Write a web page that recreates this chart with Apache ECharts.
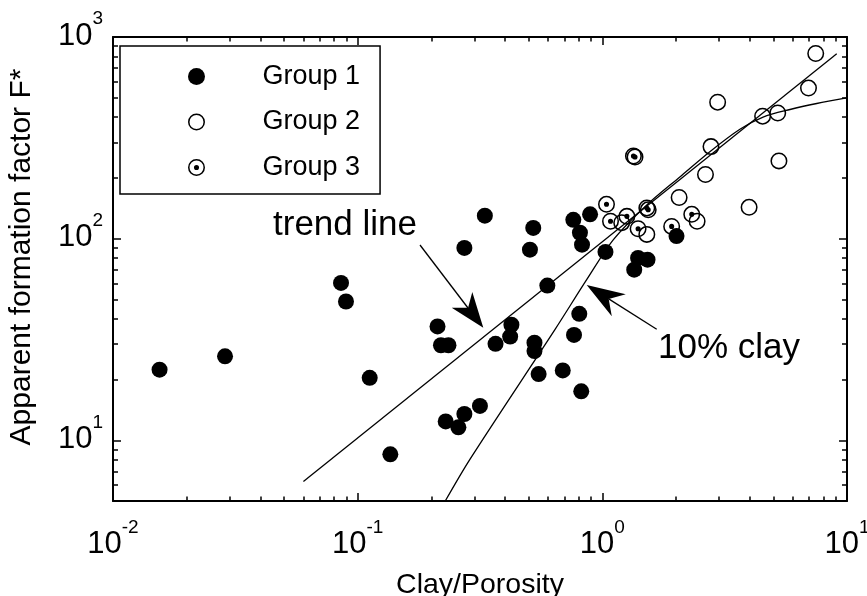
<!DOCTYPE html>
<html><head><meta charset="utf-8">
<script src="https://cdn.jsdelivr.net/npm/echarts@6/dist/echarts.min.js"></script>
<style>html,body{margin:0;padding:0;background:#fff}#c{width:867px;height:596px}</style>
</head><body><div id="c"></div>
<script>
const FONT = '"Liberation Sans", Arial, Helvetica, sans-serif';

// ---- data ----
const group1 = [
  [0.0155,22.4],[0.0287,26.1],[0.0855,60.3],[0.0896,48.8],[0.112,20.4],[0.136,8.52],
  [0.212,36.7],[0.219,29.6],[0.235,29.6],[0.229,12.4],[0.258,11.6],[0.273,13.5],[0.316,14.8],
  [0.273,90.0],[0.331,130],[0.366,30.1],[0.420,32.7],[0.425,37.4],[0.522,113],[0.506,88.2],
  [0.528,30.5],[0.528,27.7],[0.549,21.3],[0.596,58.5],[0.689,22.2],[0.766,33.3],[0.805,42.4],
  [0.820,17.5],[0.761,124],[0.891,132],[0.810,107],[0.826,93.4],[1.03,85.9],[1.35,70.2],
  [1.40,80.2],[1.53,78.7],[2.01,103]
];
const group2 = [
  [1.20,120],[1.52,105],[2.44,122],[2.06,160],[2.64,208],[2.78,286],[2.96,475],
  [4.52,405],[5.21,420],[5.27,243],[3.98,143],[6.96,558],[7.45,828]
];
const group3 = [
  [1.04,148],[1.08,122],[1.26,129],[1.40,112],[1.52,142],[1.54,139],
  [1.34,257],[1.36,254],[1.92,115],[2.32,132]
];
const trendLine = [[0.060,6.25],[9.08,825]];
const clay10 = [
  [0.228,5.0],[0.288,8.07],[0.640,35.4],[0.863,62.6],[1.11,98.9],[1.52,147],[2.08,203],
  [2.75,270],[3.65,349],[4.54,401],[5.85,437],[7.52,468],[9.97,499]
];
const legendNames = ['Group 1','Group 2','Group 3'];
const xMajorTicks = [0.01,0.1,1,10];
const yMajorTicks = [10,100,1000];
const xMinorTicks = [0.02,0.03,0.04,0.05,0.06,0.07,0.08,0.09,
                     0.2,0.3,0.4,0.5,0.6,0.7,0.8,0.9,
                     2,3,4,5,6,7,8,9];
const yMinorTicks = [6,7,8,9,20,30,40,50,60,70,80,90,200,300,400,500,600,700,800,900];
const xTitle = 'Clay/Porosity';
const yTitle = 'Apparent formation factor F*';

// ---- symbols ----
const RING = 'path://M50 0A50 50 0 1 1 50 100A50 50 0 1 1 50 0ZM50 9A41 41 0 1 0 50 91A41 41 0 1 0 50 9Z';
const RING_DOT = RING + 'M50 35A15 15 0 1 1 50 65A15 15 0 1 1 50 35Z';

function powLabel(v){
  const e = Math.round(Math.log10(v));
  return '{b|10}{s|' + e + '}';
}
const richLab = {
  b:{fontSize:31, lineHeight:31, fontFamily:FONT, color:'#000', verticalAlign:'bottom'},
  s:{fontSize:19, lineHeight:19, fontFamily:FONT, color:'#000', verticalAlign:'bottom', padding:[0,0,23,0]}
};

function xAxisDef(position, ticks, len, major, main){
  const a = {
    type:'log', logBase:10, min:0.01, max:10, position:position, gridIndex:0,
    axisLine:{show:major, onZero:false, lineStyle:{color:'#000', width:2}},
    axisTick:{show:true, inside:true, length:len, customValues:ticks, lineStyle:{color:'#000', width:1.5}},
    axisLabel:{show:false},
    splitLine:{show:false}, minorTick:{show:false}, minorSplitLine:{show:false}
  };
  if (main){
    a.axisLabel = {show:true, customValues:xMajorTicks, formatter:powLabel, rich:richLab, margin:28, fontSize:31};
    a.name = xTitle; a.nameLocation = 'middle'; a.nameGap = 70;
    a.nameTextStyle = {fontSize:28.5, fontFamily:FONT, color:'#000'};
  }
  return a;
}
function yAxisDef(position, ticks, len, major, main){
  const a = {
    type:'log', logBase:10, min:5, max:1000, position:position, gridIndex:0,
    axisLine:{show:major, onZero:false, lineStyle:{color:'#000', width:2}},
    axisTick:{show:true, inside:true, length:len, customValues:ticks, lineStyle:{color:'#000', width:1.5}},
    axisLabel:{show:false},
    splitLine:{show:false}, minorTick:{show:false}, minorSplitLine:{show:false}
  };
  if (main){
    a.axisLabel = {show:true, customValues:yMajorTicks, formatter:powLabel, rich:richLab, margin:10, fontSize:31, padding:[0,0,2,0]};
    a.name = yTitle; a.nameLocation = 'middle'; a.nameGap = 76;
    a.nameTextStyle = {fontSize:30, fontFamily:FONT, color:'#000', padding:[0,0,0,24]};
  }
  return a;
}

const chart = echarts.init(document.getElementById('c'), null, {renderer:'canvas'});
chart.setOption({
  animation:false,
  backgroundColor:'#fff',
  grid:{left:113, right:20, top:37, bottom:95, containLabel:false, outerBoundsMode:'none'},
  xAxis:[
    xAxisDef('bottom', xMajorTicks, 8, true, true),
    xAxisDef('bottom', xMinorTicks, 4.5, false, false),
    xAxisDef('top', xMajorTicks, 8, true, false),
    xAxisDef('top', xMinorTicks, 4.5, false, false)
  ],
  yAxis:[
    yAxisDef('left', yMajorTicks, 8, true, true),
    yAxisDef('left', yMinorTicks, 5, false, false),
    yAxisDef('right', yMajorTicks, 8, true, false),
    yAxisDef('right', yMinorTicks, 5, false, false)
  ],
  legend:{
    left:120, top:46, orient:'vertical',
    itemWidth:122, itemHeight:17, itemGap:18.5,
    padding:[17,20,13,68],
    borderColor:'#000', borderWidth:1.5, backgroundColor:'#fff',
    selectedMode:false,
    textStyle:{fontSize:27, fontFamily:FONT, color:'#000'},
    data:[{name:legendNames[0], icon:'circle'},{name:legendNames[1], icon:RING},{name:legendNames[2], icon:RING_DOT}]
  },
  series:[
    {type:'line', name:'trend line', data:trendLine, symbol:'none', silent:true,
     lineStyle:{color:'#000', width:1.3}, xAxisIndex:0, yAxisIndex:0},
    {type:'line', name:'10% clay', data:clay10, symbol:'none', smooth:0.3, silent:true,
     lineStyle:{color:'#000', width:1.3}, xAxisIndex:0, yAxisIndex:0},
    {type:'scatter', name:legendNames[0], data:group1, symbol:'circle', symbolSize:16,
     itemStyle:{color:'#000', opacity:1}, xAxisIndex:0, yAxisIndex:0},
    {type:'scatter', name:legendNames[1], data:group2, symbol:RING, symbolSize:17,
     itemStyle:{color:'#000', opacity:1}, xAxisIndex:0, yAxisIndex:0},
    {type:'scatter', name:legendNames[2], data:group3, symbol:RING_DOT, symbolSize:17,
     itemStyle:{color:'#000', opacity:1}, xAxisIndex:0, yAxisIndex:0}
  ],
  graphic:[
    {type:'text', x:345, y:225, style:{text:'trend line', fill:'#000', font:'35px ' + FONT, align:'center', verticalAlign:'middle'}},
    {type:'line', shape:{x1:420, y1:245, x2:468, y2:308}, style:{stroke:'#000', lineWidth:1.3}},
    {type:'polygon', shape:{points:[[483.3,327.7],[451.7,307.8],[468.1,307.8],[472.3,292.0]]}, style:{fill:'#000'}},
    {type:'text', x:729, y:348, style:{text:'10% clay', fill:'#000', font:'35px ' + FONT, align:'center', verticalAlign:'middle'}},
    {type:'line', shape:{x1:656.7, y1:329.3, x2:608.7, y2:298.9}, style:{stroke:'#000', lineWidth:1.3}},
    {type:'polygon', shape:{points:[[586.7,285],[625.8,294.3],[608.7,298.9],[611.8,316.3]]}, style:{fill:'#000'}}
  ]
});
</script></body></html>
